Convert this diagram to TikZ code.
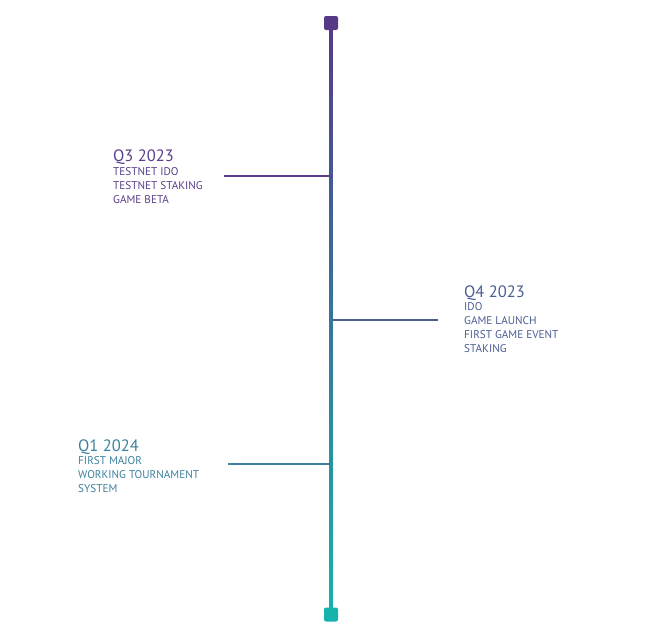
\documentclass[tikz,border=0pt]{standalone}
\usepackage{fontspec}
\setmainfont{PT Sans}
\usetikzlibrary{positioning}

\definecolor{topcol}{HTML}{563A87}
\definecolor{botcol}{HTML}{16B2AC}
\definecolor{qthree}{HTML}{5A3F8A}
\definecolor{qfour}{HTML}{4C5D94}
\definecolor{qone}{HTML}{3C819C}

\tikzset{
  endbox/.style={rectangle, rounded corners=2pt, minimum size=14pt, inner sep=0pt},
  branch/.style={line width=2pt},
  quarter/.style={font=\fontsize{16.5}{18}\selectfont, inner sep=0pt, anchor=base west},
  items/.style={font=\fontsize{11.2}{14}\selectfont, inner sep=0pt, align=left},
}

\begin{document}
\begin{tikzpicture}[x=1pt, y=-1pt]
  \useasboundingbox (0,0) rectangle (663,633);

  % Spine with colour fade
  \coordinate (spinetop) at (331,23);
  \coordinate (spinebot) at (331,614.5);
  \shade[top color=topcol, bottom color=botcol]
    ([xshift=-1.75pt]spinetop) rectangle ([xshift=1.75pt]spinebot);

  % End markers
  \node[endbox, fill=topcol] (top) at (spinetop) {};
  \node[endbox, fill=botcol] (bot) at (spinebot) {};

  % Q3 2023
  \coordinate (q3on) at (331,176);
  \coordinate (q3end) at (224,176);
  \draw[branch, qthree] (q3end) -- (q3on);
  \node[quarter, text=qthree] (q3) at (113,161.5) {Q3 2023};
  \node[items, text=qthree, below=5.5pt of q3.base west, anchor=north west] (q3items)
    {TESTNET IDO\\TESTNET STAKING\\GAME BETA};

  % Q4 2023
  \coordinate (q4on) at (333,320);
  \coordinate (q4end) at (438,320);
  \draw[branch, qfour] (q4on) -- (q4end);
  \node[quarter, text=qfour] (q4) at (464,297) {Q4 2023};
  \node[items, text=qfour, below=5.5pt of q4.base west, anchor=north west] (q4items)
    {IDO\\GAME LAUNCH\\FIRST GAME EVENT\\STAKING};

  % Q1 2024
  \coordinate (q1on) at (331,464);
  \coordinate (q1end) at (228,464);
  \draw[branch, qone] (q1end) -- (q1on);
  \node[quarter, text=qone] (q1) at (78,451) {Q1 2024};
  \node[items, text=qone, below=5.5pt of q1.base west, anchor=north west] (q1items)
    {FIRST MAJOR\\WORKING TOURNAMENT\\SYSTEM};
\end{tikzpicture}
\end{document}
